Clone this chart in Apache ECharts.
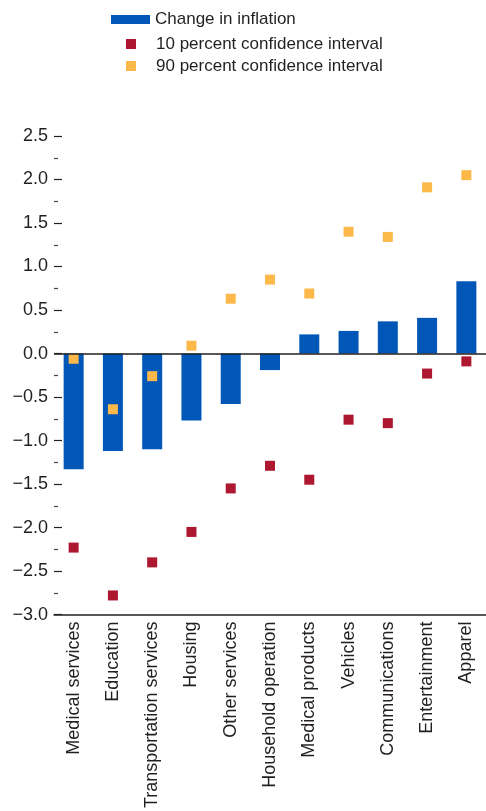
<!DOCTYPE html>
<html>
<head>
<meta charset="utf-8">
<script src="https://cdn.jsdelivr.net/npm/echarts@6/dist/echarts.min.js"></script>
<style>html,body{margin:0;padding:0;background:#fff}#c{width:486px;height:811px}</style>
</head>
<body>
<div id="c"></div>
<script>
const categories = ['Medical services','Education','Transportation services','Housing','Other services','Household operation','Medical products','Vehicles','Communications','Entertainment','Apparel'];
const changeInInflation = [-1.33,-1.12,-1.10,-0.77,-0.58,-0.19,0.22,0.26,0.37,0.41,0.83];
const ci10 = [-2.23,-2.78,-2.40,-2.05,-1.55,-1.29,-1.45,-0.76,-0.80,-0.23,-0.09];
const ci90 = [-0.06,-0.64,-0.26,0.09,0.63,0.85,0.69,1.40,1.34,1.91,2.05];
const seriesNames = ['Change in inflation','10 percent confidence interval','90 percent confidence interval'];

const FONT = 'Liberation Sans';
const TXT = '#231f20';
const BLUE = '#0057b8', RED = '#ad1730', YEL = '#fcb94a';

const chart = echarts.init(document.getElementById('c'), null, {renderer:'canvas'});
chart.setOption({
  animation:false,
  textStyle:{fontFamily:FONT,color:TXT},
  legend:[
    {data:[{name:seriesNames[0],icon:'rect'}],left:106,top:6,itemWidth:39,itemHeight:9,itemGap:5,
     textStyle:{fontFamily:FONT,fontSize:17,color:TXT},selectedMode:false},
    {data:[{name:seriesNames[1],icon:'rect'},{name:seriesNames[2],icon:'rect'}],orient:'vertical',left:121,top:30.5,
     itemWidth:10,itemHeight:10,itemGap:5,
     textStyle:{fontFamily:FONT,fontSize:17,color:TXT,padding:[0,0,0,15]},selectedMode:false}
  ],
  grid:{left:54,top:136,width:440,height:480,containLabel:false},
  xAxis:{type:'category',data:categories,
    axisLine:{onZero:false,lineStyle:{color:TXT,width:1.5}},
    axisTick:{alignWithLabel:true,inside:true,length:7,lineStyle:{color:TXT,width:1.5}},
    axisLabel:{interval:0,rotate:90,margin:7,fontSize:18,color:TXT,fontFamily:FONT},
    splitLine:{show:false}},
  yAxis:{type:'value',min:-3,max:2.5,interval:0.5,
    axisLine:{show:false},
    axisTick:{show:true,inside:true,length:8,lineStyle:{color:'#222',width:1.2}},
    minorTick:{show:true,splitNumber:2,length:4,lineStyle:{color:'#444',width:1.2}},
    splitLine:{show:false},
    axisLabel:{fontSize:18,color:TXT,fontFamily:FONT,margin:6,
      formatter:v=>(v<0?'\u2212':'')+Math.abs(v).toFixed(1)}},
  series:[
    {name:seriesNames[0],type:'bar',data:changeInInflation,barWidth:20,itemStyle:{color:BLUE},
     markLine:{silent:true,symbol:'none',label:{show:false},lineStyle:{color:TXT,width:1.5,type:'solid'},data:[{yAxis:0}]}},
    {name:seriesNames[1],type:'scatter',data:ci10,symbol:'rect',symbolSize:10,itemStyle:{color:RED,opacity:1},z:3},
    {name:seriesNames[2],type:'scatter',data:ci90,symbol:'rect',symbolSize:10,itemStyle:{color:YEL,opacity:1},z:3}
  ]
});
</script>
</body>
</html>
